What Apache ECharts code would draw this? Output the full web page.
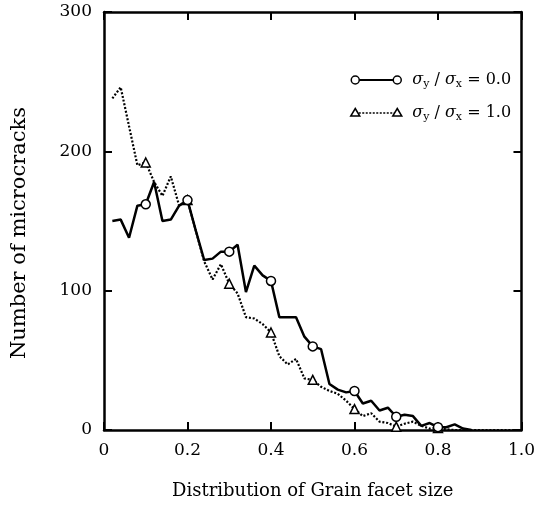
<!DOCTYPE html>
<html>
<head>
<meta charset="utf-8">
<script src="https://cdn.jsdelivr.net/npm/echarts@6/dist/echarts.min.js"></script>
<style>html,body{margin:0;padding:0;background:#fff}#c{width:538px;height:505px}</style>
</head>
<body>
<div id="c"></div>
<script>
// Data
const xSolid = [0.02,0.04,0.06,0.08,0.10,0.12,0.14,0.16,0.18,0.20,0.22,0.24,0.26,0.28,0.30,0.32,0.34,0.36,0.38,0.40,0.42,0.44,0.46,0.48,0.50,0.52,0.54,0.56,0.58,0.60,0.62,0.64,0.66,0.68,0.70,0.72,0.74,0.76,0.78,0.80,0.82,0.84,0.86,0.88];
const ySolid = [150,151,138,161,162,178,150,151,161,165,143,122,123,128,128,133,99,118,111,107,81,81,81,67,60,58,33,29,27,28,19,21,14,16,9.5,11,10,3,5,2,2,4,1,0];
const xDotted = [0.02,0.04,0.06,0.08,0.10,0.12,0.14,0.16,0.18,0.20,0.22,0.24,0.26,0.28,0.30,0.32,0.34,0.36,0.38,0.40,0.42,0.44,0.46,0.48,0.50,0.52,0.54,0.56,0.58,0.60,0.62,0.64,0.66,0.68,0.70,0.72,0.74,0.76,0.78,0.80,0.82,0.84,0.86,0.88,0.90,0.92,0.94,0.96,0.98,1.00];
const yDotted = [238,246,218,190,192,178,168,182,161,165,143,121,108,119,105,98,81,80,76,70,53,47,51,37,36,31,28,26,21,15,10,12,6,5,2.4,4.5,6,3,1,1.5,0.5,0,0,0,0,0,0,0,0,0];
const markerX = [0.10,0.20,0.30,0.40,0.50,0.60,0.70,0.80];
const xTicks = ['0','0.2','0.4','0.6','0.8','1.0'];
const yTicks = ['0','100','200','300'];
const seriesNames = ['σy/σx=0.0','σy/σx=1.0'];
const xTitle = 'Distribution of Grain facet size';
const yTitle = 'Number of microcracks';

function pts(xs, ys, sym) {
  return xs.map((x, i) => ({
    value: [x, ys[i]],
    symbol: markerX.some(m => Math.abs(m - x) < 1e-6) ? sym : 'none'
  }));
}

const FONT = 'DejaVu Serif';
const chart = echarts.init(document.getElementById('c'), null, {renderer: 'canvas'});
const axisLine = {show: true, onZero: false, lineStyle: {color: '#000', width: 2.5}};
const tick = {show: true, inside: true, length: 8, lineStyle: {color: '#000', width: 2}};

const rich = {
  i: {fontFamily: FONT, fontStyle: 'italic', fontSize: 16, fill: '#000'},
  s: {fontFamily: FONT, fontSize: 11, fill: '#000', padding: [8, 0, 0, 0]},
  n: {fontFamily: FONT, fontSize: 16, fill: '#000'}
};

chart.setOption({
  animation: false,
  backgroundColor: '#fff',
  grid: {left: 104, right: 10, top: 12, bottom: 70, containLabel: false},
  xAxis: [{
    type: 'value', min: 0, max: 1, interval: 0.2, position: 'bottom',
    axisLine, axisTick: tick, splitLine: {show: false},
    axisLabel: {color: '#000', fontFamily: FONT, fontSize: 17, margin: 12,
      formatter: v => xTicks[Math.round(v / 0.2)]},
    name: xTitle, nameLocation: 'middle', nameGap: 52,
    nameTextStyle: {color: '#000', fontFamily: FONT, fontSize: 18}
  }, {
    type: 'value', min: 0, max: 1, interval: 0.2, position: 'top',
    axisLine, axisTick: tick, axisLabel: {show: false}, splitLine: {show: false}
  }],
  yAxis: [{
    type: 'value', min: 0, max: 300, interval: 100, position: 'left',
    axisLine, axisTick: tick, splitLine: {show: false},
    axisLabel: {color: '#000', fontFamily: FONT, fontSize: 17, margin: 12,
      formatter: v => yTicks[Math.round(v / 100)]},
    name: yTitle, nameLocation: 'middle', nameGap: 74, nameRotate: 90,
    nameTextStyle: {color: '#000', fontFamily: FONT, fontSize: 21, padding: [0, 0, 0, -24]}
  }, {
    type: 'value', min: 0, max: 300, interval: 100, position: 'right',
    axisLine, axisTick: tick, axisLabel: {show: false}, splitLine: {show: false}
  }],
  series: [{
    name: seriesNames[0], type: 'line', data: pts(xSolid, ySolid, 'circle'),
    symbolSize: 9, lineStyle: {color: '#000', width: 2.5},
    itemStyle: {color: '#fff', borderColor: '#000', borderWidth: 1.5}, z: 3
  }, {
    name: seriesNames[1], type: 'line', data: pts(xDotted, yDotted, 'triangle'),
    symbolSize: 9, lineStyle: {color: '#000', width: 2.2, type: [2, 1.8]},
    itemStyle: {color: '#fff', borderColor: '#000', borderWidth: 1.5}, z: 2
  }],
  graphic: [{
    type: 'group', left: 350, top: 72,
    children: [
      {type: 'line', shape: {x1: 4, y1: 7, x2: 46, y2: 7}, style: {stroke: '#000', lineWidth: 2}},
      {type: 'circle', shape: {cx: 4, cy: 7, r: 4}, style: {fill: '#fff', stroke: '#000', lineWidth: 1.5}},
      {type: 'circle', shape: {cx: 46, cy: 7, r: 4}, style: {fill: '#fff', stroke: '#000', lineWidth: 1.5}},
      {type: 'line', shape: {x1: 4, y1: 40, x2: 46, y2: 40}, style: {stroke: '#000', lineWidth: 1.5, lineDash: [2, 1.5]}},
      {type: 'polygon', shape: {points: [[4, 35.5], [8.5, 43], [-0.5, 43]]}, style: {fill: '#fff', stroke: '#000', lineWidth: 1.5}},
      {type: 'polygon', shape: {points: [[46, 35.5], [50.5, 43], [41.5, 43]]}, style: {fill: '#fff', stroke: '#000', lineWidth: 1.5}},
      {type: 'text', x: 61, y: 7, style: {
        text: '{i|σ}{s|y}{n| / }{i|σ}{s|x}{n| = 0.0}', verticalAlign: 'middle', rich}},
      {type: 'text', x: 61, y: 40, style: {
        text: '{i|σ}{s|y}{n| / }{i|σ}{s|x}{n| = 1.0}', verticalAlign: 'middle', rich}}
    ]
  }]
});
</script>
</body>
</html>
